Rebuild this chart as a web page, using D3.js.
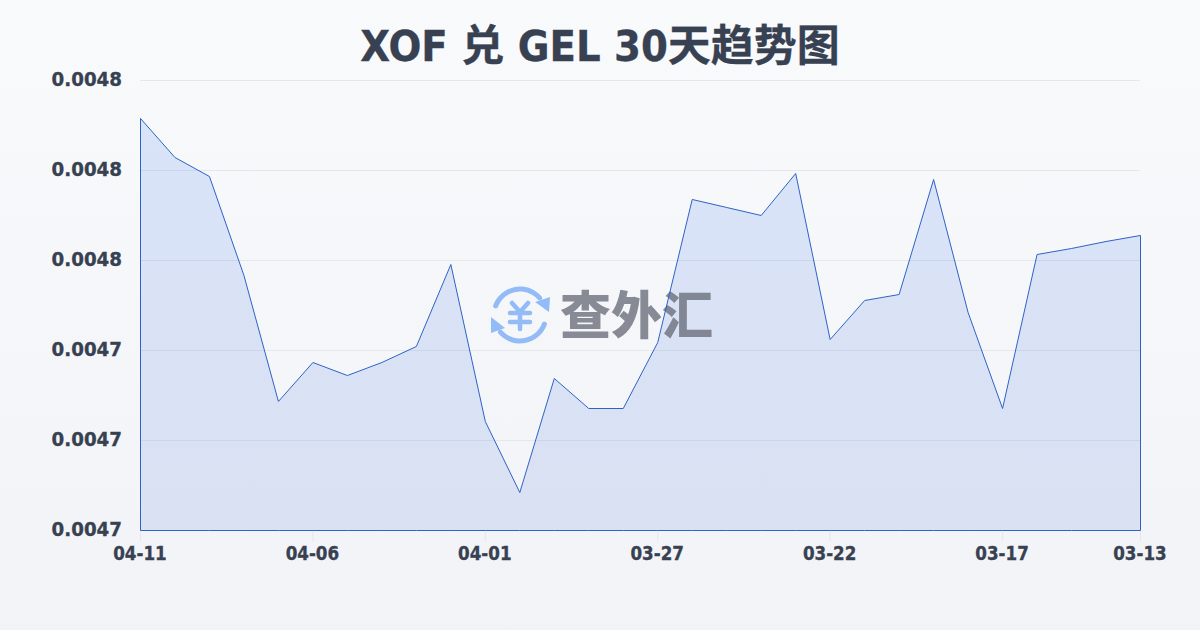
<!DOCTYPE html>
<html><head><meta charset="utf-8">
<script src="https://cdn.jsdelivr.net/npm/d3@7/dist/d3.min.js"></script>
<style>html,body{margin:0;padding:0;background:#f8fafc}svg{display:block}</style>
</head><body><svg id="c" width="1200" height="630"></svg>
<script>
const titleText = "XOF 兑 GEL 30天趋势图";
const dates = ["04-11","04-10","04-09","04-08","04-07","04-06","04-05","04-04","04-03","04-02","04-01","03-31","03-30","03-29","03-28","03-27","03-26","03-25","03-24","03-23","03-22","03-21","03-20","03-19","03-18","03-17","03-16","03-15","03-14","03-13"];
const rates = [0.00479156,0.00478289,0.00477867,0.00475667,0.00472867,0.00473733,0.00473444,0.00473733,0.00474089,0.00475911,0.00472422,0.00470844,0.00473378,0.00472711,0.00472711,0.00474178,0.00477356,0.00477178,0.00477000,0.00477933,0.00474244,0.00475111,0.00475244,0.00477800,0.00474844,0.00472711,0.00476133,0.00476267,0.00476422,0.00476556];
const yTicks = [0.0047,0.00472,0.00474,0.00476,0.00478,0.0048];
const xTicks = ["04-11","04-06","04-01","03-27","03-22","03-17","03-13"];
const watermark = "查外汇";

const font = "'DejaVu Sans Condensed','Noto Sans CJK SC',sans-serif";
const ink = "#374151";
const svg = d3.select("#c");
const defs = svg.append("defs");
const bg = defs.append("linearGradient").attr("id","bg").attr("x1",0).attr("y1",0).attr("x2",0).attr("y2",1);
bg.append("stop").attr("offset",0).attr("stop-color","#f8fafc");
bg.append("stop").attr("offset",1).attr("stop-color","#f1f3f6");
svg.append("rect").attr("width",1200).attr("height",630).attr("fill","url(#bg)");
const ag = defs.append("linearGradient").attr("id","ag").attr("gradientUnits","userSpaceOnUse").attr("x1",0).attr("y1",118).attr("x2",0).attr("y2",530);
ag.append("stop").attr("offset",0).attr("stop-color","#2563eb").attr("stop-opacity",.14);
ag.append("stop").attr("offset",1).attr("stop-color","#2a5ad0").attr("stop-opacity",.125);

const x = d3.scalePoint().domain(dates).range([140.5,1140.5]);
const y = d3.scaleLinear().domain([0.0047,0.0048]).range([530.5,80.5]);

svg.append("text").attr("x",600).attr("y",60.5).attr("text-anchor","middle")
  .attr("font-family",font).attr("font-weight",700).attr("font-size",43).attr("fill",ink)
  .attr("stroke",ink).attr("stroke-width",.3).text(titleText);

// grid
svg.append("g").selectAll("line").data(yTicks).join("line")
  .attr("x1",140).attr("x2",1140).attr("y1",d=>y(d)).attr("y2",d=>y(d))
  .attr("stroke","#e5e7eb").attr("stroke-width",1);
svg.append("g").selectAll("text").data(yTicks).join("text")
  .attr("x",122).attr("y",d=>y(d)+5).attr("text-anchor","end")
  .attr("font-family",font).attr("font-weight",700).attr("font-size",20.3).attr("fill",ink)
  .attr("stroke",ink).attr("stroke-width",.3)
  .text(d=>d.toFixed(4));

// x ticks
svg.append("g").selectAll("line").data(xTicks).join("line")
  .attr("x1",d=>x(d)).attr("x2",d=>x(d)).attr("y1",530).attr("y2",541)
  .attr("stroke","#e5e7eb");
svg.append("g").selectAll("text").data(xTicks).join("text")
  .attr("x",d=>x(d)-0.5).attr("y",560).attr("text-anchor","middle")
  .attr("font-family",font).attr("font-weight",700).attr("font-size",18.6).attr("fill",ink)
  .attr("stroke",ink).attr("stroke-width",.3).text(d=>d);

// area fill
const area = d3.area().x((d,i)=>x(dates[i])).y0(y(0.0047)).y1(d=>y(d));
svg.append("path").datum(rates).attr("d",area).attr("fill","url(#ag)");

// watermark
const blue = "#93bbf7";
const logo = svg.append("g").attr("transform","translate(520,315)");
const arc = d3.arc().innerRadius(23.5).outerRadius(28.5).cornerRadius(2.5);
logo.append("path").attr("d",arc({startAngle:-1.31,endAngle:0.95})).attr("fill",blue);
logo.append("path").attr("d",arc({startAngle:1.83,endAngle:4.09})).attr("fill",blue);
logo.append("path").attr("d","M30,-18 L29,-3 L15,-13 Z").attr("fill",blue);
logo.append("path").attr("d","M-29,2 L-29,18 L-15,13 Z").attr("fill",blue);
logo.append("path").attr("d","M-8,-12 L0,-3 L8,-12 M-10,-2 L10,-2 M-10,7 L10,7 M0,-3 L0,14")
  .attr("fill","none").attr("stroke",blue).attr("stroke-width",4.5).attr("stroke-linecap","round").attr("stroke-linejoin","round");
svg.append("text").attr("x",560).attr("y",334).attr("font-family","'Noto Sans CJK SC'").attr("font-weight",900)
  .attr("font-size",51).attr("fill","#6b6f7c").attr("fill-opacity",.8).text(watermark);

// outline
svg.append("path").datum(rates).attr("d",area).attr("fill","none")
  .attr("stroke","#2f62c6").attr("stroke-width",1).attr("stroke-linejoin","round");
</script></body></html>
